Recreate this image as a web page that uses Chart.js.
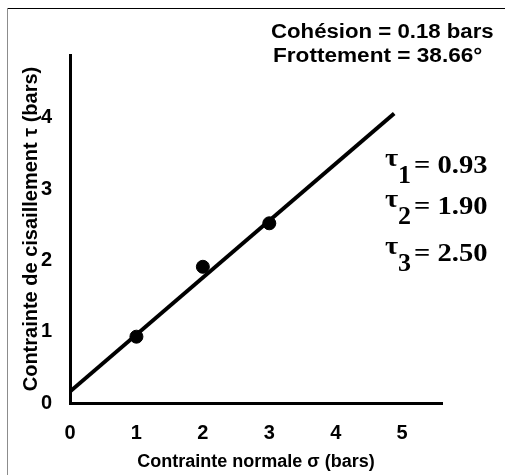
<!DOCTYPE html>
<html>
<head>
<meta charset="utf-8">
<script src="https://cdn.jsdelivr.net/npm/chart.js@4.4.1/dist/chart.umd.min.js"></script>
<style>
  html, body { margin: 0; padding: 0; background: #fff; }
  #wrap { width: 505px; height: 475px; }
</style>
</head>
<body>
<div id="wrap"><canvas id="mohr"></canvas></div>
<script>
// essais de cisaillement : contrainte normale sigma / contrainte tau (bars)
const sigma = [1, 2, 3]
const tau = [0.93, 1.91, 2.52]
// droite de Coulomb, lue aux deux bouts
const fitSigma = [0, 4.88]
const fitTau = [0.16, 4.06]
const xTicks = [0, 1, 2, 3, 4, 5]
const yTicks = [0, 1, 2, 3, 4]
const tauLabels = ['0.93', '1.90', '2.50']
const infoLines = ['Cohésion = 0.18 bars', 'Frottement = 38.66°']

const sans = '"Liberation Sans", Arial, sans-serif'
const serif = '"Liberation Serif", "Times New Roman", serif'

function stretched(c, text, x, y, sx) {
  c.save()
  c.translate(x, y)
  c.scale(sx, 1)
  c.fillText(text, 0, 0)
  c.restore()
}

// frame + text notes
const notes = {
  id: 'notes',
  beforeDraw(chart) {
    const c = chart.ctx
    c.save()
    c.fillStyle = '#fff'
    c.fillRect(0, 0, chart.width, chart.height)
    c.lineWidth = 1
    c.strokeStyle = '#000'
    c.beginPath(); c.moveTo(7, 8.5); c.lineTo(chart.width, 8.5); c.stroke()
    c.strokeStyle = '#8c8c8c'
    c.beginPath(); c.moveTo(7.5, 8); c.lineTo(7.5, chart.height); c.stroke()
    c.restore()
  },
  afterDraw(chart) {
    const c = chart.ctx
    c.save()
    c.fillStyle = '#000'
    c.textBaseline = 'alphabetic'
    c.textAlign = 'left'

    c.font = 'bold 20px ' + sans
    stretched(c, infoLines[0], 271, 38, 1.11)
    stretched(c, infoLines[1], 273, 62, 1.13)

    const rows = [173, 214, 261]
    c.font = 'bold 26px ' + serif
    tauLabels.forEach((t, i) => {
      const y = rows[i]
      stretched(c, 'τ', 385, y - 7, 1.1)
      stretched(c, String(i + 1), 398, y + 10, 1.0)
      stretched(c, '= ' + t, 414, y, 1.1)
    })
    c.restore()
  }
}

new Chart(document.getElementById('mohr'), {
  type: 'scatter',
  data: {
    datasets: [
      {
        label: 'Droite',
        data: fitSigma.map((s, i) => ({ x: s, y: fitTau[i] })),
        showLine: true,
        borderColor: '#000',
        borderWidth: 4,
        pointRadius: 0,
        order: 2
      },
      {
        label: 'Essais',
        data: sigma.map((s, i) => ({ x: s, y: tau[i] })),
        backgroundColor: '#000',
        borderColor: '#000',
        pointRadius: 6.5,
        order: 1
      }
    ]
  },
  options: {
    responsive: true,
    maintainAspectRatio: false,
    animation: false,
    layout: { padding: { top: 55, right: 63, left: 0, bottom: 0 } },
    plugins: {
      legend: { display: false },
      tooltip: { enabled: false }
    },
    scales: {
      x: {
        type: 'linear',
        min: 0,
        max: 5.6,
        afterFit(s) { s.height = 72 },
        afterBuildTicks(s) { s.ticks = xTicks.map(v => ({ value: v })) },
        grid: { display: false, drawTicks: false },
        border: { display: true, color: '#000', width: 3 },
        ticks: {
          padding: 18,
          color: '#000',
          font: { family: sans, size: 20, weight: 'bold' }
        },
        title: {
          display: true,
          text: 'Contrainte normale σ (bars)',
          color: '#000',
          padding: { top: 0, bottom: 2 },
          font: { family: sans, size: 18, weight: 'bold' }
        }
      },
      y: {
        type: 'linear',
        min: 0,
        max: 4.88,
        afterFit(s) { s.width = 70 },
        afterBuildTicks(s) { s.ticks = yTicks.map(v => ({ value: v })) },
        grid: { display: false, drawTicks: false },
        border: { display: true, color: '#000', width: 3 },
        ticks: {
          padding: 18,
          color: '#000',
          font: { family: sans, size: 20, weight: 'bold' }
        },
        title: {
          display: true,
          text: 'Contrainte de cisaillement τ (bars)',
          color: '#000',
          padding: { top: 19, bottom: 0 },
          font: { family: sans, size: 20, weight: 'bold' }
        }
      }
    }
  },
  plugins: [notes]
})
</script>
</body>
</html>
